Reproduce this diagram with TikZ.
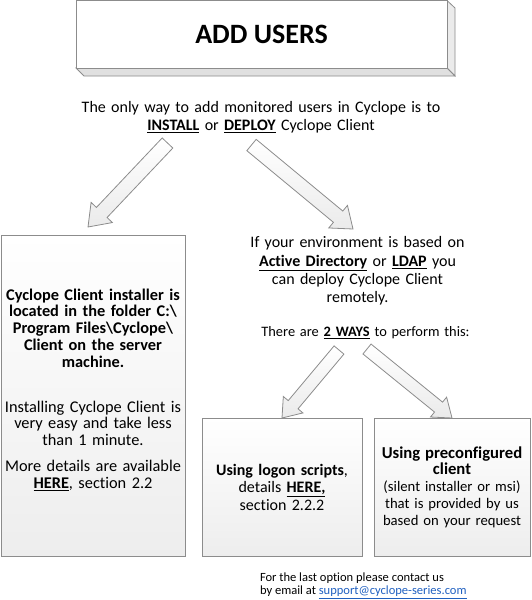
\documentclass[tikz,border=0pt]{standalone}
\usepackage{fontspec}
\setmainfont{Carlito}[Ligatures={NoCommon}]
\usetikzlibrary{calc}
\definecolor{edge}{HTML}{8C8C8C}
\definecolor{linkblue}{HTML}{2060C0}
\newcommand{\undl}[1]{\underline{#1}}
% name, tail, tip, half shaft, half head, head length
\newcommand{\blockarrow}[6]{%
  \coordinate (#1-base) at ($(#3)!#6!(#2)$);
  \draw[arrowsty] ($(#2)!#4!90:(#3)$) -- ($(#1-base)!#4!90:(#3)$) -- ($(#1-base)!#5!90:(#3)$)
    -- (#3) -- ($(#1-base)!#5!-90:(#3)$) -- ($(#1-base)!#4!-90:(#3)$) -- ($(#2)!#4!-90:(#3)$) -- cycle;}
\begin{document}
\begin{tikzpicture}[x=0.75pt,y=-0.75pt,
  every node/.style={inner sep=0pt, outer sep=0pt},
  arrowsty/.style={draw=edge, line width=0.6pt, top color=white, bottom color=gray!16, line join=miter},
  boxsty/.style={draw=edge, line width=0.7pt, top color=white, bottom color=gray!14, align=center},
  maintext/.style={align=center},
]
\useasboundingbox (0,0) rectangle (532,600);

% title box with 3D extrusion
\filldraw[fill=gray!16, draw=edge, line width=0.6pt] (447,0.5) -- (455,8) -- (455,76) -- (447,68) -- cycle;
\filldraw[fill=gray!24, draw=edge, line width=0.6pt] (76,68) -- (84,76) -- (455,76) -- (447,68) -- cycle;
\node[draw=edge, fill=white, line width=0.7pt, minimum width=278.25pt, minimum height=50.6pt,
  font=\fontsize{21}{24}\selectfont\bfseries] (title) at (261.5,34.25) {ADD USERS};

\node[maintext, text width=300pt, font=\fontsize{12}{13.5}\selectfont] (intro) at (261,117)
  {The only way to add monitored users in Cyclope is to\\
   \undl{\textbf{INSTALL}} or \undl{\textbf{DEPLOY}} Cyclope Client};

% boxes
\node[boxsty, minimum width=138pt, minimum height=240.75pt] (lbox) at (93,395.5) {};
\node[maintext, text width=138pt, font=\fontsize{12.25}{12.56}\selectfont] (ltext) at (93,390)
  {\textbf{Cyclope Client installer is}\\
   \textbf{located in the folder C:\textbackslash}\\
   \textbf{Program Files\textbackslash Cyclope\textbackslash}\\
   \textbf{Client on the server}\\
   \textbf{machine.}\\[21.2pt]
   Installing Cyclope Client is\\
   very easy and take less\\
   than 1 minute.\\[7pt]
   More details are available\\
   \undl{\textbf{HERE}}, section 2.2};

\node[maintext, text width=200pt, font=\fontsize{12}{13.7}\selectfont] (deploy) at (357.5,271)
  {If your environment is based on\\
   \undl{\textbf{Active Directory}} or \undl{\textbf{LDAP}} you\\
   can deploy Cyclope Client\\
   remotely.};

\node[maintext, text width=250pt, font=\fontsize{10.8}{13}\selectfont] (ways) at (365.5,333)
  {There are \undl{\textbf{2 WAYS}} to perform this:};

\node[boxsty, minimum width=120pt, minimum height=103.5pt, text width=116pt,
  font=\fontsize{12}{13.1}\selectfont] (mbox) at (282,487)
  {\textbf{Using logon scripts},\\
   details \undl{\textbf{HERE,}}\\
   section 2.2.2};

\node[boxsty, minimum width=117pt, minimum height=103.5pt, text width=115pt,
  font=\fontsize{11}{12.6}\selectfont] (rbox) at (452,487)
  {{\fontsize{12.5}{12.6}\selectfont\textbf{Using preconfigured}}\\
   {\fontsize{12.5}{12.6}\selectfont\textbf{client}}\\
   (silent installer or msi)\\
   that is provided by us\\
   based on your request};

\node[font=\fontsize{9.4}{9.9}\selectfont, align=left, anchor=west] (foot) at (260,586)
  {For the last option please contact us\\
   by email at {\color{linkblue}\underline{support@cyclope-series.com}}};

% block arrows
\coordinate (a1t) at (167.5,143);
\coordinate (a1h) at (88,227);
\coordinate (a2t) at (251.5,145);
\coordinate (a2h) at (353,229);
\coordinate (a3t) at (339,350);
\coordinate (a3h) at (282,418);
\coordinate (a4t) at (367,349);
\coordinate (a4h) at (452,418);
\blockarrow{a1}{a1t}{a1h}{5.5pt}{11pt}{15pt}
\blockarrow{a2}{a2t}{a2h}{5.5pt}{11pt}{14.5pt}
\blockarrow{a3}{a3t}{a3h}{4.8pt}{9.6pt}{13pt}
\blockarrow{a4}{a4t}{a4h}{4.8pt}{9.6pt}{13pt}
\end{tikzpicture}
\end{document}
